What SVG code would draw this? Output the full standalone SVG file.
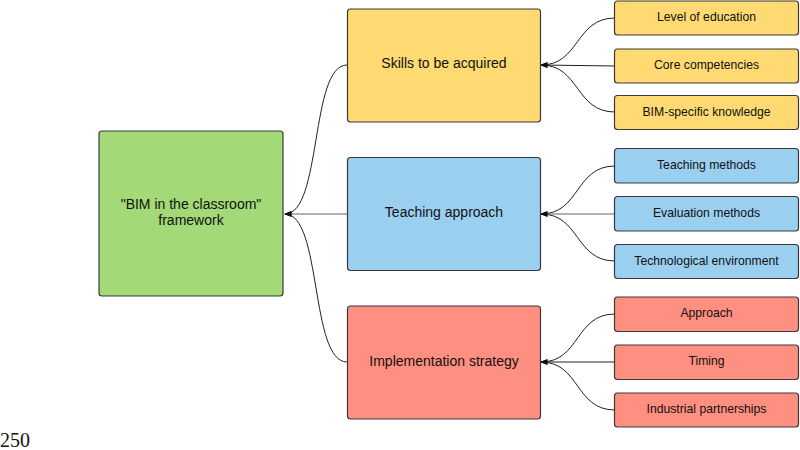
<svg xmlns="http://www.w3.org/2000/svg" width="800" height="450" viewBox="0 0 800 450">
<defs>
<marker id="arr" viewBox="0 0 10 10" refX="9" refY="5" markerWidth="8" markerHeight="7" orient="auto-start-reverse" markerUnits="userSpaceOnUse">
<path d="M0,1 L10,5 L0,9 Z" fill="#111"/>
</marker>
</defs>
<style>
rect{stroke:#3a3a3a;stroke-width:1.2}
.g{fill:#a3d977}
.y{fill:#ffda73}
.b{fill:#9acfef}
.r{fill:#ff8f80}
text{font-family:"Liberation Sans",Arial,sans-serif;fill:#111;text-anchor:middle}
.m{font-size:14px}
.s{font-size:12.2px}
.c path{fill:none;stroke:#222;stroke-width:1}
</style>
<rect width="800" height="450" fill="#fff" style="stroke:none"/>
<g class="c">
<path d="M347,65 C310,65 322,214 285,214" marker-end="url(#arr)"/>
<path d="M347,214 L285,214" marker-end="url(#arr)" style="stroke:#666"/>
<path d="M347,362 C310,362 322,214 285,214" marker-end="url(#arr)"/>
<path d="M615,18 C575,18 580,65 541,65" marker-end="url(#arr)"/>
<path d="M615,66 L541,65" marker-end="url(#arr)"/>
<path d="M615,112 C575,112 580,65 541,65" marker-end="url(#arr)"/>
<path d="M615,166 C575,166 580,214 541,214" marker-end="url(#arr)"/>
<path d="M615,214 L541,214" marker-end="url(#arr)" style="stroke:#666"/>
<path d="M615,261 C575,261 580,214 541,214" marker-end="url(#arr)"/>
<path d="M615,314 C575,314 580,362 541,362" marker-end="url(#arr)"/>
<path d="M615,362 L541,362" marker-end="url(#arr)"/>
<path d="M615,410 C575,410 580,362 541,362" marker-end="url(#arr)"/>
</g>
<g id="framework"><rect class="g" x="99" y="131" width="184" height="165" rx="3"/><text class="m" x="191" y="209">"BIM in the classroom"</text><text class="m" x="191" y="225">framework</text></g>
<g id="skills"><rect class="y" x="347.5" y="9" width="193" height="113" rx="3"/><text class="m" x="444" y="68">Skills to be acquired</text></g>
<g id="teaching"><rect class="b" x="347.5" y="157.5" width="193" height="113" rx="3"/><text class="m" x="444" y="217">Teaching approach</text></g>
<g id="implementation"><rect class="r" x="347.5" y="306" width="193" height="113" rx="3"/><text class="m" x="444" y="366">Implementation strategy</text></g>
<g id="level"><rect class="y" x="614.5" y="1" width="184" height="34" rx="3"/><text class="s" x="706.5" y="21">Level of education</text></g>
<g id="core"><rect class="y" x="614.5" y="49" width="184" height="34" rx="3"/><text class="s" x="706.5" y="69">Core competencies</text></g>
<g id="bimk"><rect class="y" x="614.5" y="95.5" width="184" height="34" rx="3"/><text class="s" x="706.5" y="115.5">BIM-specific knowledge</text></g>
<g id="tmethods"><rect class="b" x="614.5" y="148.5" width="184" height="34.5" rx="3"/><text class="s" x="706.5" y="168.5">Teaching methods</text></g>
<g id="emethods"><rect class="b" x="614.5" y="196.5" width="184" height="34.5" rx="3"/><text class="s" x="706.5" y="216.5">Evaluation methods</text></g>
<g id="techenv"><rect class="b" x="614.5" y="244.5" width="184" height="34" rx="3"/><text class="s" x="706.5" y="264.5">Technological environment</text></g>
<g id="approach"><rect class="r" x="614.5" y="297" width="184" height="34.5" rx="3"/><text class="s" x="706.5" y="317">Approach</text></g>
<g id="timing"><rect class="r" x="614.5" y="345" width="184" height="34.5" rx="3"/><text class="s" x="706.5" y="365">Timing</text></g>
<g id="industrial"><rect class="r" x="614.5" y="393" width="184" height="34" rx="3"/><text class="s" x="706.5" y="413">Industrial partnerships</text></g>
<text x="0" y="447" style="font-family:'Liberation Serif','Times New Roman',serif;font-size:20px;text-anchor:start">250</text>
</svg>
